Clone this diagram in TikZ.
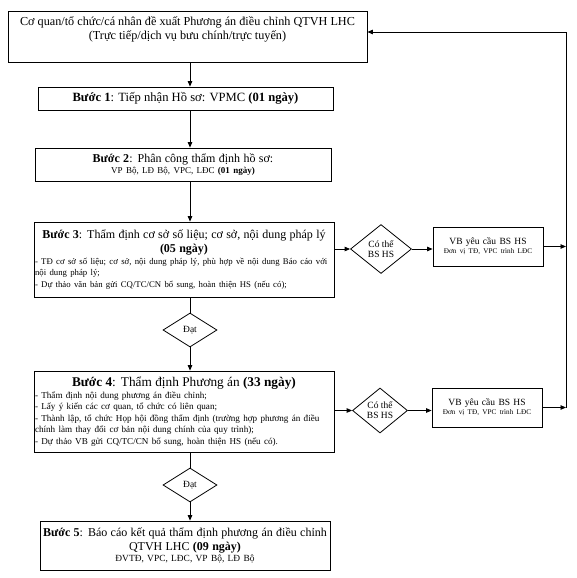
\documentclass[tikz,border=0pt]{standalone}
\usepackage{fontspec}
\setmainfont{Liberation Serif}
\usetikzlibrary{arrows.meta,shapes.geometric}
\begin{document}
\begin{tikzpicture}[x=1pt,y=-1pt,
  box/.style={draw, line width=0.8pt, rectangle, inner sep=0pt, align=center},
  dia/.style={draw, line width=0.8pt, diamond, inner sep=0pt, align=center},
  arr/.style={line width=0.8pt, -{Triangle[length=5.5pt,width=4.5pt]}},
  ln/.style={line width=0.8pt},
  fA/.style={font=\fontsize{12.2}{14}\selectfont},
]
\useasboundingbox (0,0) rectangle (576,578);
\hyphenpenalty=10000
% source box
\node[box, minimum width=359, minimum height=51] (src) at (187.5,36.5) {};
\node[fA, align=center] (srct) at (187.5,29) {Cơ quan/tổ chức/cá nhân đề xuất Phương án điều chỉnh QTVH LHC\\(Trực tiếp/dịch vụ bưu chính/trực tuyến)};
% step 1
\node[box, minimum width=295, minimum height=23, font=\fontsize{12.6}{14}\selectfont] (b1) at (185.5,98.5) {\textbf{Bước 1}: Tiếp nhận Hồ sơ: VPMC \textbf{(01 ngày)}};
% step 2
\node[box, minimum width=296, minimum height=33, text width=292] (b2) at (183,164.5) {{\fontsize{12}{13}\selectfont\textbf{Bước 2}: Phân công thẩm định hồ sơ:\par}{\fontsize{9}{11}\selectfont VP Bộ, LĐ Bộ, VPC, LĐC \textbf{(01 ngày)}\par}};
% step 3
\node[box, minimum width=300, minimum height=75, text width=298, align=left] (b3) at (184,259.5) {{\centering\fontsize{12}{14.5}\selectfont\textbf{Bước 3}: Thẩm định cơ sở số liệu; cơ sở, nội dung pháp lý\\\textbf{(05 ngày)}\par}{\fontsize{8.75}{11.5}\selectfont - TĐ cơ sở số liệu; cơ sở, nội dung pháp lý, phù hợp về nội dung Báo cáo với\\nội dung pháp lý;\\- Dự thảo văn bản gửi CQ/TC/CN bổ sung, hoàn thiện HS (nếu có);\par}\vspace{7pt}};
% decision 1
\node[dia, minimum width=54, minimum height=34, font=\fontsize{9.5}{11}\selectfont] (d1) at (190,330) {Đạt};
% step 4
\node[box, minimum width=300, minimum height=81, text width=298, align=left] (b4) at (184,411.5) {{\centering\fontsize{13.3}{15}\selectfont\textbf{Bước 4}: Thẩm định Phương án \textbf{(33 ngày)}\par}{\fontsize{9.1}{11.5}\selectfont - Thẩm định nội dung phương án điều chỉnh;\\- Lấy ý kiến các cơ quan, tổ chức có liên quan;\\- Thành lập, tổ chức Họp hội đồng thẩm định (trường hợp phương án điều\\chính làm thay đổi cơ bản nội dung chính của quy trình);\\- Dự thảo VB gửi CQ/TC/CN bổ sung, hoàn thiện HS (nếu có).\par}};
% decision 2
\node[dia, minimum width=54, minimum height=34, font=\fontsize{9.5}{11}\selectfont] (d2) at (190,485) {Đạt};
% step 5
\node[box, minimum width=290, minimum height=49, text width=288] (b5) at (185,545.5) {{\fontsize{12}{13.5}\selectfont\textbf{Bước 5}: Báo cáo kết quả thẩm định phương án điều chỉnh\\QTVH LHC \textbf{(09 ngày)}\par}{\fontsize{9.4}{11}\selectfont ĐVTĐ, VPC, LĐC, VP Bộ, LĐ Bộ\par}};
% side branch 1
\node[dia, minimum width=61, minimum height=49, font=\fontsize{9.5}{10}\selectfont] (c1) at (381,249) {Có thể\\BS HS};
\node[box, minimum width=110, minimum height=39, text width=108] (v1) at (488,246.5) {{\fontsize{9.5}{12}\selectfont VB yêu cầu BS HS\par}{\fontsize{7.2}{9}\selectfont Đơn vị TĐ, VPC trình LĐC\par}};
% side branch 2
\node[dia, minimum width=55, minimum height=45, font=\fontsize{9.5}{10}\selectfont] (c2) at (380,410.5) {Có thể\\BS HS};
\node[box, minimum width=110, minimum height=39, text width=108] (v2) at (487,407.5) {{\fontsize{9.5}{12}\selectfont VB yêu cầu BS HS\par}{\fontsize{7.2}{9}\selectfont Đơn vị TĐ, VPC trình LĐC\par}};
% helpers
\coordinate (spine) at (190,0);
\coordinate (rt) at (566,0);
\coordinate (back) at (566,32);
% main connectors
\draw[arr] (spine |- src.south) -- (spine |- b1.north);
\draw[arr] (spine |- b1.south) -- (spine |- b2.north);
\draw[arr] (spine |- b2.south) -- (spine |- b3.north);
\draw[ln] (spine |- b3.south) -- (d1.north);
\draw[arr] (d1.south) -- (spine |- b4.north);
\draw[ln] (spine |- b4.south) -- (d2.north);
\draw[arr] (d2.south) -- (spine |- b5.north);
% side connectors
\draw[arr] (c1.west -| b3.east) -- (c1.west);
\draw[arr] (c1.east) -- (c1.east -| v1.west);
\draw[arr] (v1.east) -- (rt |- v1.east);
\draw[arr] (c2.west -| b4.east) -- (c2.west);
\draw[arr] (c2.east) -- (c2.east -| v2.west);
\draw[arr] (v2.east) -- (rt |- v2.east);
\draw[ln] (rt |- v2.east) -- (back);
\draw[arr] (back) -- (back -| src.east);
\end{tikzpicture}
\end{document}
